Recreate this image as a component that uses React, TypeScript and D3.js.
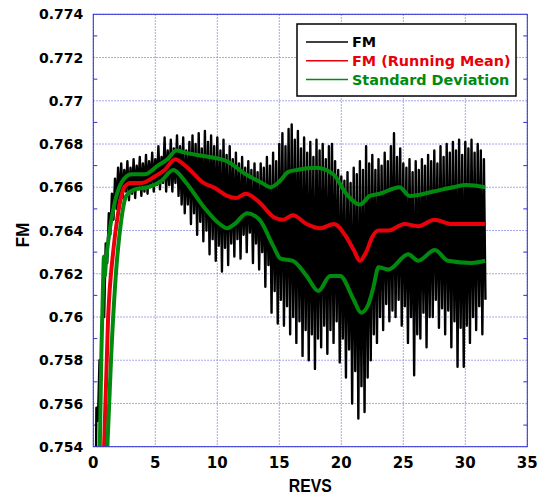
import * as d3 from 'd3';

// axis ticks as printed on the chart
const xTickLabels = ['0', '5', '10', '15', '20', '25', '30', '35'];
const yTickLabels = ['0.754', '0.756', '0.758', '0.76', '0.762', '0.764', '0.766', '0.768', '0.77', '0.772', '0.774'];
const yMinorTicks = [0.755, 0.757, 0.759, 0.761, 0.763, 0.765, 0.767, 0.769, 0.771, 0.773];

// FM raw signal: first sample, then spike tops / bottoms every quarter rev
const fmLead = [0.22, 0.7536];
const fmRev0 = 0.25;
const fmRevStep = 0.25;
const fmPeaks = [
  0.7558, 0.7580, 0.7612, 0.7634,
  0.7648, 0.7657, 0.7664, 0.7669,
  0.7671, 0.7668, 0.7672, 0.7669,
  0.7673, 0.7670, 0.7674, 0.7671,
  0.7675, 0.7672, 0.7676, 0.7673,
  0.7679, 0.7674, 0.7683, 0.7677,
  0.7682, 0.7678, 0.7684, 0.7679,
  0.7683, 0.7677, 0.7681, 0.7684,
  0.7680, 0.7685, 0.7678, 0.7686,
  0.7681, 0.7684, 0.7679, 0.7683,
  0.7677, 0.7682, 0.7675, 0.7679,
  0.7673, 0.7676, 0.7671, 0.7674,
  0.7669, 0.7672, 0.7668, 0.7671,
  0.7667, 0.7671, 0.7669, 0.7674,
  0.7670, 0.7676, 0.7672, 0.7680,
  0.7685, 0.7679, 0.7687, 0.7689,
  0.7682, 0.7686, 0.7678, 0.7683,
  0.7676, 0.7681, 0.7674, 0.7682,
  0.7677, 0.7680, 0.7673, 0.7679,
  0.7680, 0.7672, 0.7668, 0.7665,
  0.7663, 0.7667, 0.7662, 0.7669,
  0.7666, 0.7672, 0.7668, 0.7679,
  0.7671, 0.7675, 0.7668, 0.7673,
  0.7670, 0.7676, 0.7672, 0.7679,
  0.7685, 0.7674, 0.7678, 0.7671,
  0.7669, 0.7673, 0.7667, 0.7672,
  0.7668, 0.7673, 0.7670, 0.7675,
  0.7672, 0.7677, 0.7671, 0.7679,
  0.7674, 0.7680, 0.7676, 0.7681,
  0.7677, 0.7682, 0.7675, 0.7681,
  0.7678, 0.7682, 0.7676, 0.7680,
  0.7677, 0.7673,
];
const fmTroughs = [
  0.7552, 0.7572, 0.7600, 0.7625,
  0.7638, 0.7645, 0.7650, 0.7652,
  0.7655, 0.7658, 0.7654, 0.7657,
  0.7655, 0.7659, 0.7656, 0.7658,
  0.7657, 0.7660, 0.7658, 0.7661,
  0.7659, 0.7662, 0.7658, 0.7661,
  0.7658, 0.7662, 0.7656, 0.7652,
  0.7648, 0.7652, 0.7643, 0.7648,
  0.7638, 0.7644, 0.7635, 0.7640,
  0.7629, 0.7636, 0.7626, 0.7633,
  0.7621, 0.7632, 0.7624, 0.7634,
  0.7628, 0.7636, 0.7627, 0.7638,
  0.7630, 0.7639, 0.7625, 0.7634,
  0.7622, 0.7630, 0.7614, 0.7624,
  0.7602, 0.7612, 0.7597, 0.7608,
  0.7596, 0.7605, 0.7592, 0.7600,
  0.7588, 0.7598, 0.7582, 0.7594,
  0.7580, 0.7592, 0.7576, 0.7590,
  0.7586, 0.7596, 0.7583, 0.7594,
  0.7588, 0.7598, 0.7579, 0.7590,
  0.7572, 0.7585, 0.7560, 0.7575,
  0.7553, 0.7568, 0.7556, 0.7572,
  0.7580, 0.7592, 0.7588, 0.7600,
  0.7594, 0.7606, 0.7598, 0.7603,
  0.7600, 0.7608, 0.7596, 0.7605,
  0.7588, 0.7600, 0.7573, 0.7592,
  0.7590, 0.7602, 0.7586, 0.7600,
  0.7600, 0.7608, 0.7595, 0.7604,
  0.7592, 0.7603, 0.7586, 0.7598,
  0.7577, 0.7595, 0.7577, 0.7596,
  0.7588, 0.7600, 0.7594, 0.7605,
  0.7592, 0.7608,
];

// running mean and +/- one standard deviation, [rev, FM]
const meanRevs = [0.86, 1.19, 1.6, 2.0, 2.5, 3.0, 3.9, 4.95, 5.75, 6.6, 7.4, 7.8, 8.9, 9.7, 10.8, 11.5, 12.3, 13.4, 14.6, 15.3, 16.1, 17.2, 18.3, 19.4, 20.4, 21.0, 21.5, 22.0, 22.5, 23.0, 23.8, 25.1, 26.2, 27.5, 28.9, 30.0, 31.6];
const meanVals = [0.7538, 0.7599, 0.7630, 0.7648, 0.7660, 0.7662, 0.7662, 0.7665, 0.7668, 0.7673, 0.7670, 0.7668, 0.7662, 0.7660, 0.7656, 0.7655, 0.7657, 0.7653, 0.7646, 0.7645, 0.7647, 0.7643, 0.7641, 0.7643, 0.7637, 0.7631, 0.7626, 0.7630, 0.7637, 0.7640, 0.7640, 0.7643, 0.7642, 0.7645, 0.7643, 0.7643, 0.7643];

const upperRevs = [0.52, 0.65, 0.78, 0.86, 0.93, 1.0, 1.32, 1.73, 2.26, 3.06, 4.14, 5.2, 6.0, 6.7, 7.4, 8.3, 9.4, 10.8, 12.3, 13.6, 14.3, 15.06, 15.7, 16.4, 18.0, 19.35, 20.4, 21.5, 22.3, 23.1, 24.7, 25.5, 27.4, 29.0, 30.1, 31.6];
const upperVals = [0.7538, 0.7583, 0.7614, 0.7628, 0.7619, 0.7624, 0.7640, 0.7653, 0.7662, 0.7666, 0.7666, 0.7670, 0.7673, 0.7677, 0.7676, 0.7675, 0.7674, 0.7672, 0.7666, 0.7662, 0.7660, 0.7663, 0.7667, 0.7668, 0.7669, 0.7666, 0.7657, 0.7652, 0.7656, 0.7657, 0.7660, 0.7656, 0.7658, 0.7660, 0.7661, 0.7660];

const lowerRevs = [1.12, 1.45, 1.85, 2.26, 2.66, 3.34, 4.4, 5.5, 6.45, 7.5, 8.9, 10.2, 10.8, 11.4, 12.4, 13.4, 14.5, 15.1, 16.1, 17.2, 18.15, 19.1, 19.9, 21.0, 21.6, 22.2, 22.6, 23.0, 23.8, 25.4, 26.2, 27.55, 28.6, 30.5, 31.6];
const lowerVals = [0.7538, 0.7583, 0.7622, 0.7645, 0.7656, 0.7659, 0.7660, 0.7663, 0.7668, 0.7662, 0.7651, 0.7643, 0.7641, 0.7643, 0.7648, 0.7645, 0.7633, 0.7627, 0.7626, 0.7619, 0.7612, 0.7619, 0.7619, 0.7608, 0.7602, 0.7606, 0.7614, 0.7623, 0.7622, 0.7629, 0.7626, 0.7631, 0.7626, 0.7625, 0.7626];

const legendItems = ['FM', 'FM (Running Mean)', 'Standard Deviation'];

const W = 543;
const H = 498;
const RED = '#e8000b';
const GREEN = '#008a0e';
const BLUE = '#2f2fd6';
const GRID = '#8a8ae6';
const FONT = '"DejaVu Sans", Verdana, sans-serif';
const TITLE_FONT = '"Liberation Sans", Arial, sans-serif';

export default function App() {
  const x = d3.scaleLinear().domain([0, 35]).range([93.3, 527.3]);
  const y = d3.scaleLinear().domain([0.754, 0.774]).range([446.7, 14.3]);
  const [x0, x1] = x.range();
  const [y0, y1] = y.range();

  const fmPts: [number, number][] = [[fmLead[0], fmLead[1]]];
  fmPeaks.forEach((p, i) => {
    const r = fmRev0 + i * fmRevStep;
    fmPts.push([r, p]);
    if (fmTroughs[i] !== undefined) fmPts.push([r + fmRevStep / 2, fmTroughs[i]]);
  });

  const raw = d3.line<[number, number]>().x(d => x(d[0])).y(d => y(d[1]));
  const smooth = d3.line<[number, number]>().x(d => x(d[0])).y(d => y(d[1])).curve(d3.curveMonotoneX);
  const zip = (rs: number[], vs: number[]) => rs.map((r, i) => [r, vs[i]] as [number, number]);

  const legendColors = ['#000', RED, GREEN];

  return (
    <svg width={W} height={H} style={{ position: 'absolute', left: 0, top: 0, background: '#fff' }}>
      <defs>
        <clipPath id="plot">
          <rect x={x0} y={y1} width={x1 - x0} height={y0 - y1} />
        </clipPath>
      </defs>

      {/* grid */}
      <g stroke={GRID} strokeWidth={1} strokeDasharray="1.5,1.5">
        {xTickLabels.map(t => (
          <line key={'gx' + t} x1={x(+t)} x2={x(+t)} y1={y1} y2={y0} />
        ))}
        {yTickLabels.map(t => (
          <line key={'gy' + t} x1={x0} x2={x1} y1={y(+t)} y2={y(+t)} />
        ))}
      </g>

      {/* minor ticks, inward on both sides */}
      <g stroke={BLUE} strokeWidth={1}>
        {yMinorTicks.map(t => (
          <g key={'m' + t}>
            <line x1={x0} x2={x0 + 4} y1={y(t)} y2={y(t)} />
            <line x1={x1 - 4} x2={x1} y1={y(t)} y2={y(t)} />
          </g>
        ))}
      </g>

      {/* data */}
      <g clipPath="url(#plot)" fill="none">
        <path d={raw(fmPts)!} stroke="#000" strokeWidth={2.4} strokeLinejoin="round" />
        <path d={smooth(zip(meanRevs, meanVals))!} stroke={RED} strokeWidth={4} />
        <path d={smooth(zip(upperRevs, upperVals))!} stroke={GREEN} strokeWidth={4} />
        <path d={smooth(zip(lowerRevs, lowerVals))!} stroke={GREEN} strokeWidth={4} />
      </g>

      {/* frame */}
      <rect x={x0} y={y1} width={x1 - x0} height={y0 - y1} fill="none" stroke={BLUE} strokeWidth={1} />

      {/* tick labels */}
      <g fontFamily={FONT} fontWeight="bold" fontSize={14} fill="#000">
        {yTickLabels.map(t => (
          <text key={'ly' + t} x={x0 - 10} y={y(+t)} dy="0.36em" textAnchor="end">{t}</text>
        ))}
        {xTickLabels.map(t => (
          <text key={'lx' + t} x={x(+t)} y={y0 + 16} dy="0.36em" textAnchor="middle" fontSize={15}>{t}</text>
        ))}
      </g>

      {/* axis titles */}
      <text x={x(17.5)} y={492} textAnchor="middle" fontFamily={TITLE_FONT} fontWeight="bold" fontSize={18.5} textLength={43} lengthAdjust="spacingAndGlyphs">REVS</text>
      <text transform="translate(29,235) rotate(-90)" textAnchor="middle" fontFamily={TITLE_FONT} fontWeight="bold" fontSize={18.5} textLength={25} lengthAdjust="spacingAndGlyphs">FM</text>

      {/* legend */}
      <g>
        <rect x={297} y={24} width={219} height={72} fill="#fff" stroke="#000" strokeWidth={1.5} />
        {legendItems.map((name, i) => (
          <g key={name} transform={`translate(306, ${42 + i * 18.7})`}>
            <line x1={0} x2={42} y1={0} y2={0} stroke={legendColors[i]} strokeWidth={1.5} />
            <text x={46} y={0} dy="0.36em" fontFamily={FONT} fontWeight="bold" fontSize={14.4} fill={legendColors[i]}>{name}</text>
          </g>
        ))}
      </g>
    </svg>
  );
}
